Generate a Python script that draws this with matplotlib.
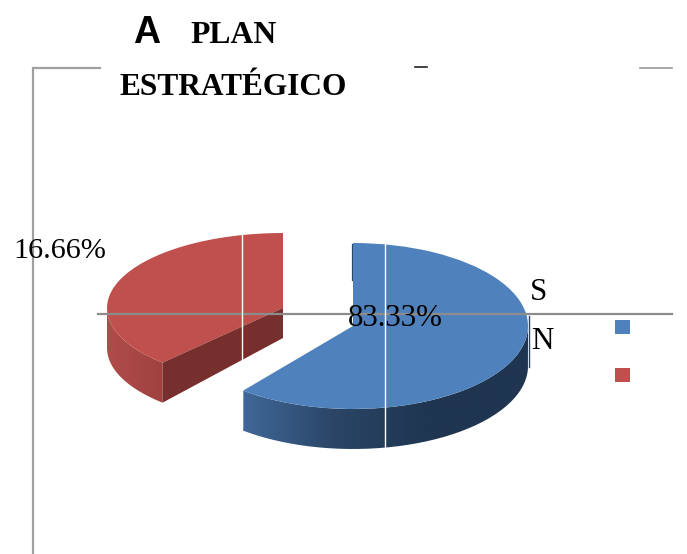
import numpy as np
import matplotlib
matplotlib.use("Agg")
import matplotlib.pyplot as plt
from matplotlib.colors import LinearSegmentedColormap
from matplotlib.patches import PathPatch, Polygon
from matplotlib.path import Path

W = 687; H = 554

# labels as printed on the chart
title_a = "A"
title_1 = "PLAN"
title_2 = "ESTRATÉGICO"
categories = ["S", "N"]
printed = ["83.33%", "16.66%"]
# share of the circle as each slice is really drawn in the picture
drawn_blue = 0.608
drawn_red = 0.38

blue = "#4f81bd"
red = "#c0504d"
gray = "#8c8c8c"
serif = "Liberation Serif"

fig = plt.figure(figsize=(W/100, H/100), dpi=100, facecolor="white")


def slice_axes(share, color, counterclock, cx, cy, rx, ry, z):
    # full figure axes where the pie radius is rx by ry pixels, centre at cx,cy
    a = fig.add_axes([0, 0, 1, 1], zorder=z)
    a.pie([share], startangle=90, counterclock=counterclock, colors=[color], normalize=False,
          wedgeprops=dict(linewidth=0))
    a.set_aspect("auto")
    a.set_xlim(-cx/rx, (W-cx)/rx)
    a.set_ylim((cy-H)/ry, cy/ry)
    a.axis("off")
    a.patch.set_alpha(0)
    return a


def side_wall(a, t1, t2, depth_u, cmap, x1, x2):
    # outer wall of the slice between angles t1 and t2, gradient from x1 to x2
    t = np.radians(np.linspace(t1, t2, 80))
    top = np.column_stack([np.cos(t), np.sin(t)])
    bot = top - [0, depth_u]
    pts = np.vstack([top, bot[::-1], top[:1]])
    p = PathPatch(Path(pts), facecolor="none", edgecolor="none")
    a.add_patch(p)
    ylim = a.get_ylim(); xlim = a.get_xlim()
    g = np.linspace(0, 1, 256).reshape(1, -1)
    im = a.imshow(g, cmap=cmap, extent=[x1, x2, ylim[0], ylim[1]], aspect="auto", zorder=0.5)
    im.set_clip_path(p)
    a.set_xlim(xlim); a.set_ylim(ylim)


# blue slice
bx = 353; by = 326; brx = 175; bry = 83
ax_b = slice_axes(drawn_blue, blue, False, bx, by, brx, bry, 2)
blue_cm = LinearSegmentedColormap.from_list("b", ["#41699a", "#2a4566", "#1f3550", "#1f3550"])
end_blue = 90 - 360*drawn_blue + 360
side_wall(ax_b, end_blue, 360, 40/bry, blue_cm, -0.65, 1.0)
ax_b.plot([0, 0], [0.55, 0.98], color="#2a4566", lw=1.6, zorder=0.4)

# red slice, pulled out to the left
rx0 = 283; ry0 = 308; rrx = 176; rry = 75
ax_r = slice_axes(drawn_red, red, True, rx0, ry0, rrx, rry, 1)
end_red = 90 + 360*drawn_red
red_cm = LinearSegmentedColormap.from_list("r", ["#b04c4a", "#9a3f3d"])
side_wall(ax_r, 180, end_red, 40/rry, red_cm, -1.0, -0.6)
tc = np.radians(end_red)
ex, ey = np.cos(tc), np.sin(tc)
ax_r.add_patch(Polygon([(0, 0), (ex, ey), (ex, ey-40/rry), (0, -30/rry)], closed=True,
                       facecolor="#772f2d", edgecolor="none", zorder=3))

# overlay in pixel coordinates
ax = fig.add_axes([0, 0, 1, 1], zorder=5)
ax.set_xlim(0, W); ax.set_ylim(H, 0); ax.axis("off"); ax.patch.set_alpha(0)

ax.plot([33, 33, 100], [H, 68, 68], color="#a0a0a0", lw=1.6, solid_joinstyle="miter")
ax.plot([640, 672], [68, 68], color="#a0a0a0", lw=1.3)
ax.plot([415, 427], [66.5, 66.5], color="#222222", lw=1.2)
ax.plot([98, 672], [314, 314], color=gray, lw=1.6)
ax.plot([242, 242], [235, 360], color="white", lw=1.0)
ax.plot([242, 242], [387, 427], color="white", lw=1.0)
ax.plot([385, 385], [244, 452], color="white", lw=1.0)
ax.plot([529, 529], [316, 367], color="#2a4566", lw=1.0)

ax.text(147, 43, title_a, family="Liberation Sans", weight="bold", fontsize=27, ha="center", va="baseline")
ax.text(190, 43, title_1, family=serif, weight="bold", fontsize=22.8, ha="left", va="baseline")
ax.text(119, 95, title_2, family=serif, weight="bold", fontsize=22.6, ha="left", va="baseline")

ax.text(395, 326, printed[0], family=serif, fontsize=22.3, ha="center", va="baseline")
ax.text(60, 258, printed[1], family=serif, fontsize=21.8, ha="center", va="baseline")
ax.text(538, 300, categories[0], family=serif, fontsize=22.3, ha="center", va="baseline")
ax.text(542, 349, categories[1], family=serif, fontsize=22.3, ha="center", va="baseline")

ax.scatter([622.5, 622.5], [327, 375], marker="s", s=108, c=[blue, red], linewidths=0)

fig.savefig("out.png", dpi=100)
